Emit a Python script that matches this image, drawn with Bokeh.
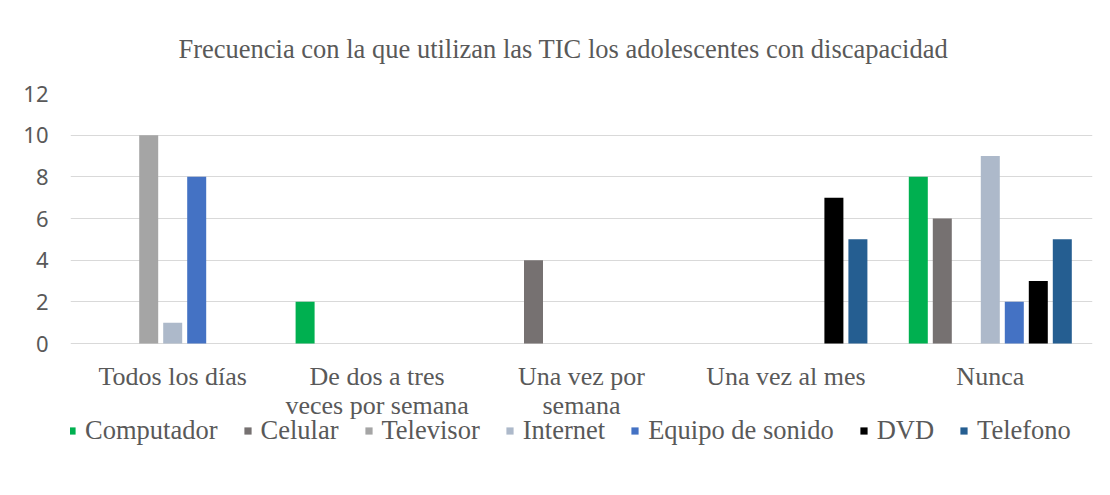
from bokeh.plotting import figure
from bokeh.models import FactorRange, Range1d, Legend, LegendItem, ColumnDataSource, FixedTicker
from bokeh.transform import dodge
from bokeh.core.properties import value
from bokeh.embed import file_html
from bokeh.resources import INLINE

categories = ["Todos los días", "De dos a tres veces por semana", "Una vez por semana",
              "Una vez al mes", "Nunca"]
category_labels = ["Todos los días", "De dos a tres\nveces por semana", "Una vez por\nsemana",
                   "Una vez al mes", "Nunca"]
series = ["Computador", "Celular", "Televisor", "Internet", "Equipo de sonido", "DVD", "Telefono"]
computador = [0, 2, 0, 0, 8]
celular = [0, 0, 4, 0, 6]
televisor = [10, 0, 0, 0, 0]
internet = [1, 0, 0, 0, 9]
equipo_sonido = [8, 0, 0, 0, 2]
dvd = [0, 0, 0, 7, 3]
telefono = [0, 0, 0, 5, 5]
y_ticks = [0, 2, 4, 6, 8, 10, 12]

values = [computador, celular, televisor, internet, equipo_sonido, dvd, telefono]
colors = ["#00B050", "#767171", "#A5A5A5", "#ADB9CA", "#4472C4", "#000000", "#255E91"]

data = {"cat": categories, "label": category_labels, "base": [0] * len(categories)}
for i, v in enumerate(values):
    data[f"s{i}"] = v
source = ColumnDataSource(data)

# frame extends below zero to hold category labels and legend (12 units = 250 px)
y_bottom = -137 / (250 / 12)
p = figure(x_range=FactorRange(*categories, range_padding=0), y_range=Range1d(y_bottom, 12),
           frame_width=1022, frame_height=387, output_backend="svg", toolbar_location=None,
           min_border_left=70, min_border_right=10, min_border_top=93, min_border_bottom=6)

p.title.text = "Frecuencia con la que utilizan las TIC los adolescentes con discapacidad"
p.title.text_font = "Liberation Serif"
p.title.text_font_size = "26.5px"
p.title.text_font_style = "normal"
p.title.text_color = "#595959"
p.title.align = "left"
p.title.standoff = 60
p.title.offset = 108

step = 24 / 204.4
width = 19 / 204.4
items = []
for i, name in enumerate(series):
    r = p.vbar(x=dodge("cat", (i - 3) * step, range=p.x_range), top=f"s{i}", width=width,
               source=source, fill_color=colors[i], line_color=None)
    items.append(LegendItem(label=name, renderers=[r]))

p.text(x="cat", y="base", text="label", source=source, text_align="center",
       text_baseline="top", y_offset=18, text_font=value("Liberation Serif"),
       text_font_size="26px", text_color="#595959", text_line_height=1.0)

p.outline_line_color = None
p.background_fill_color = "white"
p.border_fill_color = "white"
p.xgrid.grid_line_color = None
p.ygrid.grid_line_color = "#D9D9D9"
p.ygrid.grid_line_width = 1
p.yaxis.ticker = FixedTicker(ticks=y_ticks)
p.xaxis.visible = False

p.yaxis.axis_line_color = None
p.yaxis.major_tick_line_color = None
p.yaxis.minor_tick_line_color = None
p.yaxis.major_label_text_font = "Noto Sans"
p.yaxis.major_label_text_font_size = "22px"
p.yaxis.major_label_text_color = "#595959"
p.yaxis.major_label_standoff = 16

legend = Legend(items=items, orientation="horizontal", location=(-3, 34),
                label_text_font="Liberation Serif", label_text_font_size="26.5px",
                label_text_color="#595959", glyph_width=9, glyph_height=9,
                label_standoff=9, spacing=25, padding=0, margin=0, label_height=20,
                border_line_color=None, background_fill_alpha=0)
p.add_layout(legend, "center")

open("out.html", "w").write(file_html(p, INLINE))
